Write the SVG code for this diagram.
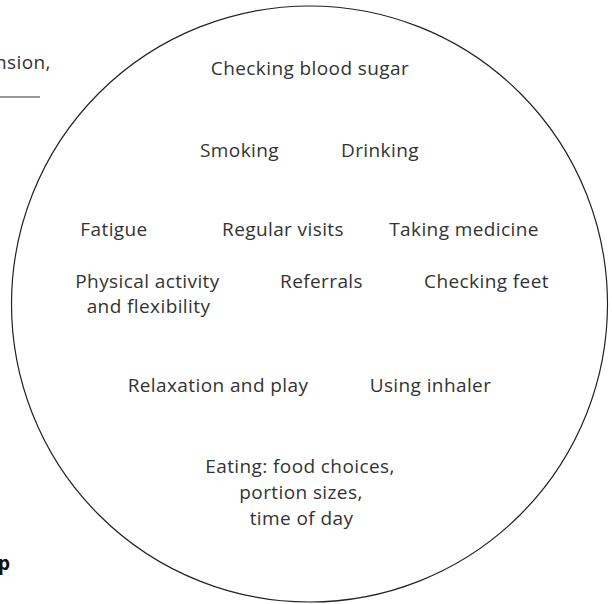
<svg xmlns="http://www.w3.org/2000/svg" width="612" height="604" viewBox="0 0 612 604">
<style>
text{font-family:"Open Sans","Noto Sans","Liberation Sans",sans-serif;font-size:19px;letter-spacing:0.4px;fill:#333;text-anchor:middle}
.b{font-weight:bold;text-anchor:start;fill:#111;letter-spacing:0}
.l{text-anchor:start}
</style>
<rect width="612" height="604" fill="#fff"/>
<g id="frame">
<circle cx="309.5" cy="304" r="298" fill="none" stroke="#222" stroke-width="1.2"/>
</g>
<g id="margin">
<text class="l" x="-5" y="69">nsion,</text>
<line x1="0" y1="97" x2="40" y2="97" stroke="#333" stroke-width="1"/>
<text class="b" x="-2" y="570">p</text>
</g>
<g id="items">
<text x="310" y="75">Checking blood sugar</text>
<text x="239.5" y="157">Smoking</text>
<text x="380" y="157">Drinking</text>
<text x="114" y="236">Fatigue</text>
<text x="283" y="236">Regular visits</text>
<text x="464" y="236">Taking medicine</text>
<text x="147.5" y="288">Physical activity</text>
<text x="148.5" y="313">and flexibility</text>
<text x="321.5" y="288">Referrals</text>
<text x="486.5" y="288">Checking feet</text>
<text x="218" y="392">Relaxation and play</text>
<text x="430.5" y="392">Using inhaler</text>
<text x="300" y="473">Eating: food choices,</text>
<text x="301" y="499">portion sizes,</text>
<text x="301.5" y="525">time of day</text>
</g>
</svg>
